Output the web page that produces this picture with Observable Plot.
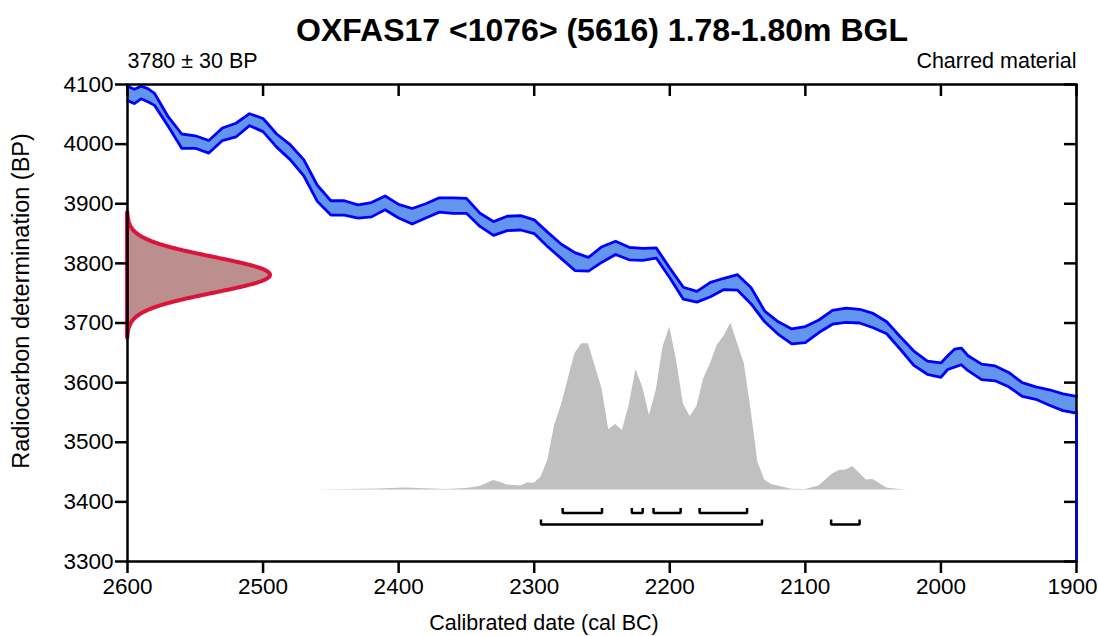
<!DOCTYPE html>
<html><head><meta charset="utf-8">
<script src="https://cdn.jsdelivr.net/npm/d3@7"></script>
<script src="https://cdn.jsdelivr.net/npm/@observablehq/plot@0.6"></script>
<style>html,body{margin:0;padding:0;background:#fff;} #chart svg{display:block;}</style>
</head><body><div id="chart"></div>
<script>
// ---- Text ----
const titleText = "OXFAS17 <1076> (5616) 1.78-1.80m BGL";
const dateText = "3780 ± 30 BP";
const materialText = "Charred material";
const xLabel = "Calibrated date (cal BC)";
const yLabel = "Radiocarbon determination (BP)";

// ---- Radiocarbon measurement ----
const c14Mean = 3780;
const c14Error = 30;

// ---- Ticks ----
const xTicks = [2600, 2500, 2400, 2300, 2200, 2100, 2000, 1900];
const yTicks = [3300, 3400, 3500, 3600, 3700, 3800, 3900, 4000, 4100];

// ---- Calibration curve band (upper / lower edges, BP) ----
const calYears = [2600,2595,2590,2585,2580,2570,2560,2550,2540,2530,2520,2510,2500,2490,2480,2470,2460,2450,2440,2430,2420,2410,2400,2390,2380,2370,2360,2350,2340,2330,2320,2310,2300,2290,2280,2270,2260,2250,2240,2230,2220,2210,2200,2190,2180,2170,2160,2150,2140,2130,2120,2110,2100,2090,2080,2070,2060,2050,2040,2030,2020,2010,2000,1995,1990,1985,1980,1970,1960,1950,1940,1930,1920,1910,1900];
const curveUpper = [4097,4092,4097,4093,4085,4046,4017,4014,4006,4027,4035,4051,4043,4017,3999,3974,3931,3905,3905,3898,3902,3913,3899,3892,3900,3910,3910,3909,3884,3870,3879,3880,3873,3852,3832,3818,3810,3828,3837,3827,3825,3826,3792,3760,3753,3768,3775,3781,3759,3720,3702,3690,3694,3705,3721,3725,3723,3716,3702,3677,3653,3636,3633,3645,3656,3658,3645,3631,3628,3617,3600,3593,3588,3581,3577];
const curveLower = [4073,4068,4076,4071,4065,4030,3993,3993,3985,4006,4012,4031,4021,3995,3974,3947,3904,3881,3881,3876,3878,3890,3876,3866,3876,3886,3884,3884,3862,3847,3855,3856,3850,3828,3808,3788,3787,3802,3815,3806,3805,3809,3776,3740,3735,3744,3756,3755,3732,3702,3681,3665,3667,3684,3698,3701,3700,3692,3682,3656,3629,3614,3609,3622,3626,3630,3620,3605,3603,3593,3577,3572,3562,3553,3549];

// ---- Calibrated probability distribution (relative, peak = 100) ----
const probYears = [2460,2435,2415,2395,2385,2365,2350,2340,2330,2325,2320,2310,2305,2300,2295,2290,2285,2280,2270,2265,2260,2250,2245,2240,2235,2230,2225,2220,2215,2210,2205,2200,2195,2190,2185,2180,2175,2170,2165,2160,2155,2145,2140,2135,2130,2125,2110,2100,2090,2080,2075,2070,2065,2055,2050,2040,2030,2025];
const probValues = [0,0.3,0.6,1.2,0.9,0.3,0.9,2.0,5.6,4.6,3.0,2.4,4.2,4.0,7.6,17.6,38.6,50.6,81.6,87.6,87.6,60.6,36.0,39.2,35.6,50.6,72.0,61.6,44.6,59.6,85.6,97.6,77.6,51.6,44.0,50.0,66.6,75.6,86.6,92.0,100,75.6,47.6,16.6,6.0,3.2,0.4,0.2,2.4,9.6,11.6,12.0,14.0,6.0,6.2,1.2,0.2,0];

// ---- Calibrated ranges (cal BC) ----
const range68Start = [2279, 2228, 2212, 2178];
const range68End   = [2250, 2220, 2192, 2143];
const range95Start = [2295, 2081];
const range95End   = [2132, 2060];

// ---- Layout ----
const W = 1098, H = 636, mL = 127, mR = 22, mT = 84, mB = 75;
const plotW = W - mL - mR, plotH = H - mT - mB;
const xDomain = [2600, 1900], yDomain = [3300, 4100];
const bpPerPx = (yDomain[1] - yDomain[0]) / plotH;
const yrPerPx = (xDomain[0] - xDomain[1]) / plotW;

const curve = calYears.map((year, i) => ({year, hi: curveUpper[i], lo: curveLower[i]}));

const histBase = 3420, histHeightPx = 167;
const hist = probYears.map((year, i) => ({year, p: probValues[i]}));

const gaussWidthYears = 143 * yrPerPx;
const gauss = d3.range(c14Mean - 3.5 * c14Error, c14Mean + 3.5 * c14Error + 0.01, 1).map(bp => ({
  bp, dens: Math.exp(-0.5 * ((bp - c14Mean) / c14Error) ** 2)
}));

const row68 = 3381.5, row95 = 3362, bracketH = 5 * bpPerPx;
const brackets = [];
const addBr = (starts, ends, row, tag) => starts.forEach((s, i) => {
  const e = ends[i], id = tag + i;
  brackets.push({id, x: s, y: row + bracketH}, {id, x: s, y: row}, {id, x: e, y: row}, {id, x: e, y: row + bracketH});
});
addBr(range68Start, range68End, row68, "a");
addBr(range95Start, range95End, row95, "b");

const font = 21.5, tickFont = 22.5;
const lastX = xTicks[xTicks.length - 1];
const chart = Plot.plot({
  width: W, height: H,
  marginLeft: mL, marginRight: mR, marginTop: mT, marginBottom: mB,
  x: {domain: xDomain, label: null},
  y: {domain: yDomain, label: null},
  style: {fontFamily: "'Liberation Sans', Arial, sans-serif", color: "black", background: "white"},
  marks: [
    // probability distribution
    Plot.areaY(hist, {x: "year", y1: histBase, y2: d => histBase + d.p / 100 * histHeightPx * bpPerPx, fill: "#c0c0c0", curve: "linear"}),
    // calibration curve band
    Plot.areaY(curve, {x: "year", y1: "lo", y2: "hi", fill: "#6495ed"}),
    Plot.line(curve, {x: "year", y: "hi", stroke: "#0000ff", strokeWidth: 2.8, strokeLinejoin: "round"}),
    Plot.line(curve, {x: "year", y: "lo", stroke: "#0000ff", strokeWidth: 2.8, strokeLinejoin: "round"}),
    // radiocarbon measurement
    Plot.areaX(gauss, {y: "bp", x1: xDomain[0], x2: d => xDomain[0] - d.dens * gaussWidthYears, fill: "#bc8f8f", stroke: "#dc143c", strokeWidth: 4, strokeLinejoin: "round"}),
    // ranges
    Plot.line(brackets, {x: "x", y: "y", z: "id", stroke: "black", strokeWidth: 2.5, strokeLinejoin: "miter", strokeLinecap: "butt"}),
    // frame and axes
    Plot.frame({stroke: "black", strokeWidth: 2.5}),
    Plot.ruleX([lastX], {x: d => d, y1: yDomain[0], y2: curveLower[curveLower.length - 1], stroke: "#0000cc", strokeWidth: 2.5}),
    Plot.axisX(xTicks, {anchor: "bottom", tickSize: 12, tickPadding: 5, strokeWidth: 2.5, fontSize: tickFont, tickFormat: d => d === lastX ? "" : String(d), label: null}),
    Plot.axisX([lastX], {anchor: "bottom", tickSize: 0, tickPadding: 17, dx: -4, fontSize: tickFont, tickFormat: d => String(d), label: null}),
    Plot.axisY(yTicks, {anchor: "left", tickSize: 12, tickPadding: 2, strokeWidth: 2.5, fontSize: tickFont, tickFormat: d => String(d), label: null}),
    Plot.ruleX(xTicks, {x: d => d, insetBottom: plotH - 12, stroke: "black", strokeWidth: 2.5}),
    Plot.ruleY(yTicks, {y: d => d, insetLeft: plotW - 12, stroke: "black", strokeWidth: 2.5}),
    // texts
    Plot.text([titleText], {text: d => d, frameAnchor: "top", lineAnchor: "middle", dy: -54, fontSize: 32, fontWeight: "bold"}),
    Plot.text([dateText], {text: d => d, frameAnchor: "top-left", textAnchor: "start", lineAnchor: "middle", dy: -23, fontSize: font}),
    Plot.text([materialText], {text: d => d, frameAnchor: "top-right", textAnchor: "end", lineAnchor: "middle", dy: -23, fontSize: font}),
    Plot.text([xLabel], {text: d => d, frameAnchor: "bottom", textAnchor: "middle", lineAnchor: "middle", dx: -58, dy: 62, fontSize: font}),
    Plot.text([yLabel], {text: d => d, frameAnchor: "left", textAnchor: "middle", lineAnchor: "middle", rotate: -90, dx: -106, dy: -22, fontSize: 23.5})
  ]
});
document.getElementById("chart").appendChild(chart);
</script>
</body></html>
